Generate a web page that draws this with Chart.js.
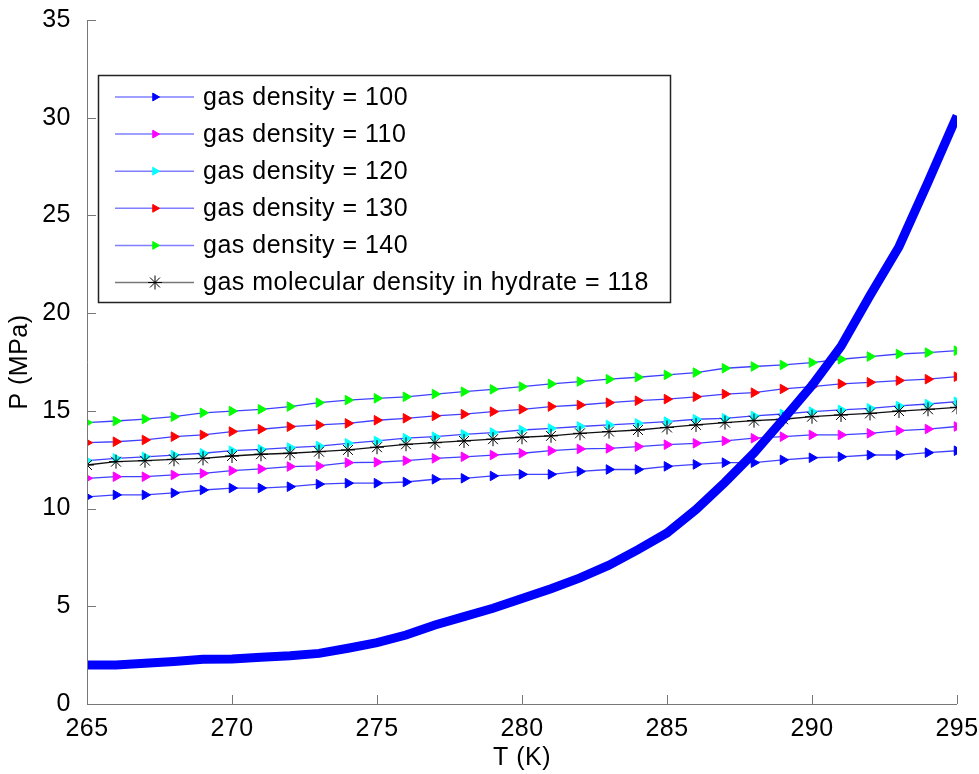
<!DOCTYPE html>
<html>
<head>
<meta charset="utf-8">
<script src="https://cdn.jsdelivr.net/npm/chart.js@4/dist/chart.umd.min.js"></script>
<style>
  html, body { margin: 0; padding: 0; background: #fff; }
  #wrap { width: 979px; height: 774px; }
</style>
</head>
<body>
<div id="wrap"><canvas id="chart" width="979" height="774"></canvas></div>
<script>
// Temperatures (K)
const temps = [265, 266, 267, 268, 269, 270, 271, 272, 273, 274, 275, 276, 277, 278, 279, 280,
               281, 282, 283, 284, 285, 286, 287, 288, 289, 290, 291, 292, 293, 294, 295];

// Thick curve (hydrate equilibrium pressure), MPa
const equilibrium = [2.0, 2.0, 2.08, 2.17, 2.29, 2.3, 2.39, 2.47, 2.59, 2.85, 3.14, 3.53, 4.04, 4.47, 4.9, 5.4,
                     5.9, 6.45, 7.1, 7.9, 8.75, 9.95, 11.35, 12.85, 14.55, 16.3, 18.3, 20.9, 23.4, 26.7, 30.1];

// Gas density series, MPa
const dens100 = [10.6, 10.7, 10.7, 10.8, 10.95, 11.05, 11.05, 11.12, 11.25, 11.3, 11.3, 11.36, 11.5, 11.55, 11.67, 11.75,
                 11.75, 11.9, 12.0, 12.0, 12.16, 12.26, 12.35, 12.35, 12.49, 12.6, 12.65, 12.74, 12.74, 12.86, 12.96];
const dens110 = [11.55, 11.63, 11.63, 11.72, 11.8, 11.94, 12.03, 12.15, 12.18, 12.35, 12.37, 12.45, 12.57, 12.65, 12.74, 12.83,
                 12.96, 13.05, 13.08, 13.17, 13.27, 13.34, 13.46, 13.6, 13.68, 13.77, 13.77, 13.85, 13.99, 14.07, 14.2];
const dens120 = [12.45, 12.57, 12.65, 12.74, 12.83, 12.96, 13.03, 13.12, 13.2, 13.34, 13.46, 13.6, 13.68, 13.8, 13.89, 14.02,
                 14.1, 14.2, 14.28, 14.36, 14.45, 14.57, 14.62, 14.74, 14.84, 14.96, 15.05, 15.13, 15.25, 15.35, 15.47];
const dens130 = [13.37, 13.42, 13.51, 13.68, 13.77, 13.94, 14.06, 14.19, 14.28, 14.36, 14.52, 14.62, 14.74, 14.83, 14.96, 15.08,
                 15.22, 15.3, 15.42, 15.52, 15.6, 15.72, 15.86, 15.93, 16.12, 16.24, 16.38, 16.46, 16.55, 16.62, 16.75];
const dens140 = [14.4, 14.48, 14.58, 14.7, 14.9, 14.99, 15.08, 15.22, 15.42, 15.55, 15.64, 15.72, 15.86, 15.98, 16.1, 16.24,
                 16.38, 16.5, 16.62, 16.72, 16.84, 16.96, 17.18, 17.27, 17.35, 17.47, 17.64, 17.78, 17.91, 17.98, 18.08];
const hydrate118 = [12.23, 12.4, 12.45, 12.52, 12.57, 12.69, 12.78, 12.83, 12.91, 13.0, 13.14, 13.29, 13.37, 13.46, 13.55, 13.65,
                    13.72, 13.85, 13.94, 14.02, 14.15, 14.28, 14.4, 14.5, 14.57, 14.7, 14.79, 14.87, 14.99, 15.08, 15.18];

const legendLabels = ['gas density = 100', 'gas density = 110', 'gas density = 120',
                      'gas density = 130', 'gas density = 140', 'gas molecular density in hydrate = 118'];
const legendColors = ['#0000ff', '#ff00ff', '#00ffff', '#ff0000', '#00ff00', '#000'];
const xTicks = [265, 270, 275, 280, 285, 290, 295];
const yTicks = [0, 5, 10, 15, 20, 25, 30, 35];

const FONT = '"Liberation Sans", Arial, Helvetica, sans-serif';
const toXY = arr => arr.map((v, i) => ({ x: temps[i], y: v }));

function triSeries(label, data, color) {
  return {
    label: label,
    data: toXY(data),
    borderColor: 'rgba(0,0,255,0.75)',
    borderWidth: 1.3,
    pointStyle: 'triangle',
    pointRotation: 90,
    pointRadius: 5.5,
    pointBackgroundColor: color,
    pointBorderColor: color,
    pointBorderWidth: 1,
    tension: 0
  };
}

// index 0 is drawn on top in Chart.js
const datasets = [
  { label: 'equilibrium', data: toXY(equilibrium), borderColor: '#0000ff', borderWidth: 9,
    pointRadius: 0, tension: 0, borderCapStyle: 'butt' },
  { label: legendLabels[5], data: toXY(hydrate118), borderColor: '#111', borderWidth: 1.3,
    pointStyle: 'star', pointRadius: 7, pointBorderColor: '#000', pointBackgroundColor: '#000',
    pointBorderWidth: 1, tension: 0 },
  triSeries(legendLabels[4], dens140, '#00ff00'),
  triSeries(legendLabels[3], dens130, '#ff0000'),
  triSeries(legendLabels[2], dens120, '#00ffff'),
  triSeries(legendLabels[1], dens110, '#ff00ff'),
  triSeries(legendLabels[0], dens100, '#0000ff')
];

// axes lines + inward ticks, and the boxed legend
const matlabAxes = {
  id: 'matlabAxes',
  beforeDraw(chart) {
    chart.ctx.letterSpacing = '0.5px';
  },
  afterDraw(chart) {
    const ctx = chart.ctx;
    const xs = chart.scales.x, ys = chart.scales.y;
    const a = chart.chartArea;
    ctx.save();
    ctx.strokeStyle = '#777';
    ctx.lineWidth = 1;
    ctx.beginPath();
    ctx.moveTo(a.left + 0.5, a.top);
    ctx.lineTo(a.left + 0.5, a.bottom + 0.5);
    ctx.lineTo(a.right, a.bottom + 0.5);
    xTicks.forEach(t => {
      const px = Math.round(xs.getPixelForValue(t)) + 0.5;
      ctx.moveTo(px, a.bottom);
      ctx.lineTo(px, a.bottom - 9);
    });
    yTicks.forEach(t => {
      const py = Math.round(ys.getPixelForValue(t)) + 0.5;
      ctx.moveTo(a.left, py);
      ctx.lineTo(a.left + 9, py);
    });
    ctx.stroke();

    // legend box
    const box = { x: 98.5, y: 75.5, w: 572, h: 227 };
    ctx.fillStyle = '#fff';
    ctx.fillRect(box.x, box.y, box.w, box.h);
    ctx.strokeStyle = '#222';
    ctx.lineWidth = 1.5;
    ctx.strokeRect(box.x, box.y, box.w, box.h);

    const rowY0 = 97, rowGap = 37.1;
    ctx.font = '25px ' + FONT;
    ctx.textBaseline = 'middle';
    ctx.textAlign = 'left';
    legendLabels.forEach((lab, i) => {
      const y = rowY0 + i * rowGap;
      const last = i === 5;
      ctx.strokeStyle = last ? '#777' : '#7f7fff';
      ctx.lineWidth = 1.5;
      ctx.beginPath();
      ctx.moveTo(115, y);
      ctx.lineTo(194, y);
      ctx.stroke();
      ctx.fillStyle = legendColors[i];
      ctx.strokeStyle = legendColors[i];
      ctx.lineWidth = 1;
      Chart.helpers.drawPoint(ctx, {
        pointStyle: last ? 'star' : 'triangle',
        rotation: last ? 0 : 90,
        radius: last ? 7 : 4.5,
        borderWidth: 1
      }, 155, y);
      ctx.fillStyle = '#000';
      ctx.fillText(lab, 203, y + 1);
    });
    ctx.restore();
  }
};

new Chart(document.getElementById('chart'), {
  type: 'line',
  data: { datasets: datasets },
  options: {
    responsive: false,
    animation: false,
    devicePixelRatio: 1,
    layout: { padding: { top: 20, right: 22, left: 0, bottom: 0 } },
    plugins: { legend: { display: false }, tooltip: { enabled: false } },
    scales: {
      x: {
        type: 'linear', min: 265, max: 295,
        afterFit: s => { s.height = 70; s.paddingLeft = 0; s.paddingRight = 0; },
        afterBuildTicks: s => { s.ticks = xTicks.map(v => ({ value: v })); },
        grid: { display: false },
        border: { display: false },
        ticks: { color: '#000', padding: 2, maxRotation: 0, font: { family: FONT, size: 25 } },
        title: { display: true, text: 'T (K)', color: '#000', padding: { top: 0, bottom: 1 },
                 font: { family: FONT, size: 25 } }
      },
      y: {
        min: 0, max: 35,
        afterFit: s => { s.width = 87; s.paddingTop = 0; s.paddingBottom = 0; },
        afterBuildTicks: s => { s.ticks = yTicks.map(v => ({ value: v })); },
        grid: { display: false },
        border: { display: false },
        ticks: { color: '#000', padding: 8, font: { family: FONT, size: 25 } },
        title: { display: true, text: 'P (MPa)', color: '#000', padding: { top: 5, bottom: 0 },
                 font: { family: FONT, size: 25 } }
      }
    }
  },
  plugins: [matlabAxes]
});
</script>
</body>
</html>
